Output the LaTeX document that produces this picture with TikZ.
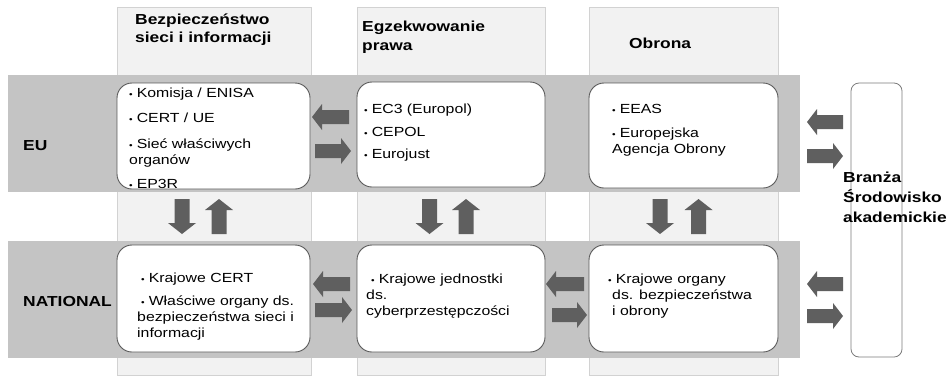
\documentclass[tikz,border=0pt]{standalone}
\usepackage{fontspec}
\setmainfont{Liberation Sans}[FakeStretch=1.2]
\definecolor{colfill}{HTML}{F2F2F2}
\definecolor{colline}{HTML}{D2D2D2}
\definecolor{bandfill}{HTML}{C4C4C4}
\definecolor{boxline}{HTML}{5A5A5A}
\definecolor{arrfill}{HTML}{5F5F5F}
\newcommand\bul{{\fontsize{8.5}{8}\selectfont •}\hspace{4pt}}
\newcommand\blkL[3]{\fill[arrfill] (#1,#3) -- (#1+10,#3-13) -- (#1+10,#3-7) -- (#2,#3-7) -- (#2,#3+7) -- (#1+10,#3+7) -- (#1+10,#3+13) -- cycle;}
\newcommand\blkR[3]{\fill[arrfill] (#2,#3) -- (#2-10,#3-13) -- (#2-10,#3-7) -- (#1,#3-7) -- (#1,#3+7) -- (#2-10,#3+7) -- (#2-10,#3+13) -- cycle;}
\newcommand\blkD[3]{\fill[arrfill] (#1,#3) -- (#1-14,#3-11) -- (#1-7.5,#3-11) -- (#1-7.5,#2) -- (#1+7.5,#2) -- (#1+7.5,#3-11) -- (#1+14,#3-11) -- cycle;}
\newcommand\blkU[3]{\fill[arrfill] (#1,#2) -- (#1-14,#2+11) -- (#1-7.5,#2+11) -- (#1-7.5,#3) -- (#1+7.5,#3) -- (#1+7.5,#2+11) -- (#1+14,#2+11) -- cycle;}
\begin{document}
\begin{tikzpicture}[x=1pt,y=-1pt,
  column/.style={fill=colfill,draw=colline,line width=0.6pt},
  band/.style={fill=bandfill},
  itembox/.style={fill=white,draw=boxline,line width=0.9pt,rounded corners=15pt},
  sidebox/.style={fill=white,draw=boxline!80,line width=0.8pt,rounded corners=8pt},
  boxtext/.style={anchor=base west,inner sep=0pt,font=\fontsize{13.2}{16}\selectfont},
  headtext/.style={anchor=base west,inner sep=0pt,font=\fontsize{14.5}{19}\selectfont\bfseries}
]
\useasboundingbox (0,0) rectangle (949,376);
\fill[white] (0,0) rectangle (949,376);
% columns
\draw[column] (117,7) rectangle (311,375);
\draw[column] (357,7) rectangle (545,375);
\draw[column] (589,7) rectangle (778,375);
% bands
\fill[band] (8,75) rectangle (800,192);
\fill[band] (8,241) rectangle (800,358);
% headers
\node[headtext] (h1) at (135,24) {\parbox[t]{180pt}{\raggedright\baselineskip=18pt Bezpieczeństwo\\sieci i informacji}};
\node[headtext] (h2) at (362,31) {\parbox[t]{180pt}{\raggedright\baselineskip=19pt Egzekwowanie\\prawa}};
\node[headtext] (h3) at (629,48) {Obrona};
\node[headtext] (eu) at (23,150) {EU};
\node[headtext] (nat) at (23,306) {NATIONAL};
% EU boxes
\draw[itembox] (117,83) rectangle (310,189);
\draw[itembox] (357,82) rectangle (545,187);
\draw[itembox] (589,83) rectangle (778,188);
% National boxes
\draw[itembox] (117,245) rectangle (310,352);
\draw[itembox] (357,245) rectangle (545,352);
\draw[itembox] (589,245) rectangle (778,352);
% side box
\draw[sidebox] (851,83) rectangle (902,357);
% EU texts
\node[boxtext] (e1) at (129,97) {\parbox[t]{180pt}{\raggedright
  \bul Komisja / ENISA\\[9pt]
  \bul CERT / UE\\[10pt]
  \bul Sieć właściwych\\
  organów\\[8pt]
  \bul EP3R}};
\node[boxtext] (e2) at (364,113) {\parbox[t]{180pt}{\raggedright
  \bul EC3 (Europol)\\[7pt]
  \bul CEPOL\\[6pt]
  \bul Eurojust}};
\node[boxtext] (e3) at (612,113) {\parbox[t]{180pt}{\raggedright
  \bul EEAS\\[8pt]
  \bul Europejska\\
  Agencja Obrony}};
% National texts
\node[boxtext] (n1) at (137,282) {\parbox[t]{180pt}{\raggedright
  \hspace*{4pt}\bul Krajowe CERT\\[7pt]
  \hspace*{4pt}\bul Właściwe organy ds.\\
  bezpieczeństwa sieci i\\
  informacji}};
\node[boxtext] (n2) at (366,283) {\parbox[t]{180pt}{\raggedright
  \hspace*{5pt}\bul Krajowe jednostki\\
  ds.\\
  cyberprzestępczości}};
\node[boxtext] (n3) at (612,283) {\parbox[t]{180pt}{\raggedright
  \hspace*{-4pt}\bul Krajowe organy\\
  ds. bezpieczeństwa\\
  i obrony}};
% side text
\node[headtext] (side) at (843,182) {\parbox[t]{110pt}{\raggedright\baselineskip=20pt Branża\\Środowisko\\akademickie}};
% horizontal arrows EU
\blkL{312}{349}{117}
\blkR{315}{351}{151}
\blkL{807}{843}{122}
\blkR{807}{843}{156}
% horizontal arrows National
\blkL{313}{350}{284}
\blkR{315}{352}{310}
\blkL{546}{584}{284}
\blkR{552}{587}{315}
\blkL{807}{843}{284}
\blkR{807}{843}{316}
% vertical arrows
\blkD{182}{199}{234}
\blkU{219}{199}{234}
\blkD{429.5}{199}{234}
\blkU{466}{199}{234}
\blkD{660}{199}{234}
\blkU{698.5}{199}{234}
\end{tikzpicture}
\end{document}
